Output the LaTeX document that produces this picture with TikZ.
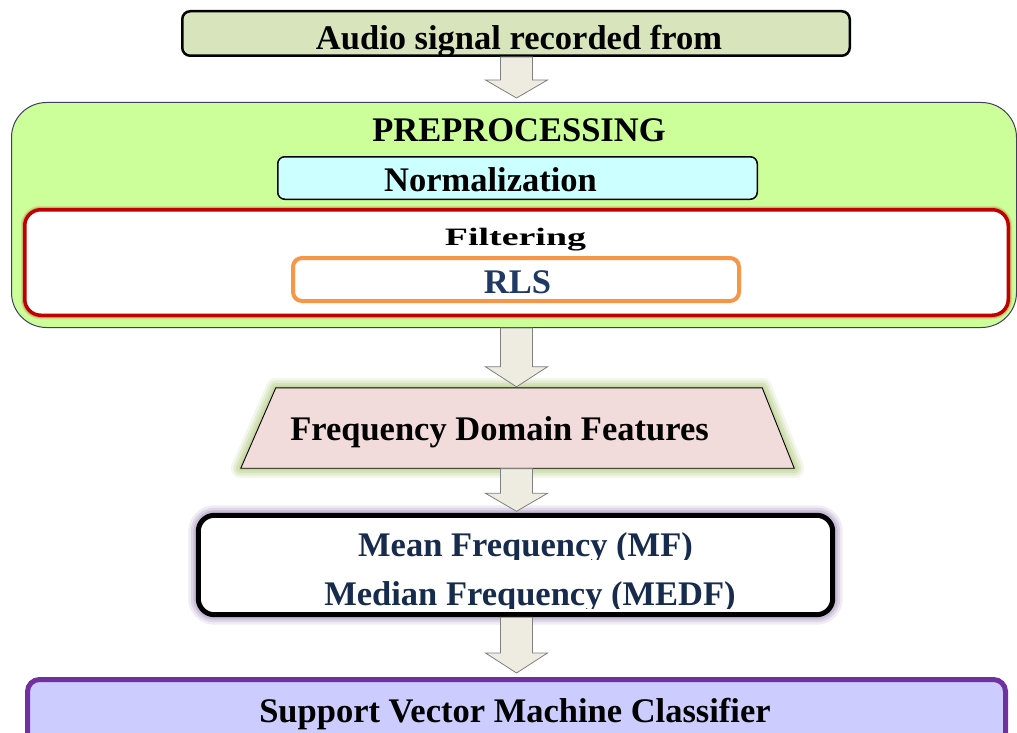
\documentclass[tikz,border=0pt]{standalone}
\usepackage{fontspec}
\setmainfont{Liberation Serif}
\usetikzlibrary{calc}
\definecolor{topfill}{HTML}{D8E4BC}
\definecolor{arrowfill}{HTML}{EEECE1}
\definecolor{arrowline}{HTML}{7F7F7F}
\definecolor{prefill}{HTML}{CCFF99}
\definecolor{preline}{HTML}{3F3F5F}
\definecolor{normfill}{HTML}{CCFFFF}
\definecolor{filtred}{HTML}{C00000}
\definecolor{rlsorange}{HTML}{F79646}
\definecolor{rlsblue}{HTML}{1F3864}
\definecolor{trapfill}{HTML}{F2DCDB}
\definecolor{greenglow}{HTML}{C3D69B}
\definecolor{purpleglow}{HTML}{B3A2C7}
\definecolor{navy}{HTML}{172B4D}
\definecolor{svmfill}{HTML}{CCCCFF}
\definecolor{svmline}{HTML}{7030A0}
\newcommand\blockarrow[3]{% start, tip, head length
  \draw[barrow] ($(#1)+(-16,0)$) -- ($(#1)+(16,0)$) -- ($(#2)+(16,-#3)$) -- ($(#2)+(31,-#3)$)
    -- (#2) -- ($(#2)+(-31,-#3)$) -- ($(#2)+(-16,-#3)$) -- cycle;}
\begin{document}
\begin{tikzpicture}[x=1pt,y=-1pt,
  box/.style={rectangle, inner sep=0pt},
  txt/.style={font=\bfseries\fontsize{34.5}{40}\selectfont, inner sep=0pt, anchor=base},
  barrow/.style={draw=arrowline, fill=arrowfill, line width=0.8pt, line join=miter}]
\useasboundingbox (0,0) rectangle (1017,733);
\clip (0,0) rectangle (1017,733);
\coordinate (axis) at (516.5,0);
% top box
\node[box, draw=black, line width=2.5pt, fill=topfill, rounded corners=8pt,
  minimum width=667.5pt, minimum height=44.5pt] (top) at (516,33.5) {};
\begin{scope}
  \clip (200,12) rectangle (840,55.5);
  \node[txt] (topt) at (519,49.5) {Audio signal recorded from};
\end{scope}
% preprocessing
\node[box, draw=preline, line width=1pt, fill=prefill, rounded corners=35pt,
  minimum width=1005pt, minimum height=225pt] (pre) at (514,215) {};
\node[txt] (pret) at (519,141.5) {PREPROCESSING};
\node[box, draw=black, line width=1.5pt, fill=normfill, rounded corners=7pt,
  minimum width=479.5pt, minimum height=42.5pt] (norm) at (517.5,178) {};
\node[txt] (normt) at (490.5,191.5) {Normalization};
\foreach \w/\o in {8/0.12,5.5/0.2}{
  \draw[filtred, line width=\w pt, opacity=\o, rounded corners=16pt]
    (516.5-491.75,262.5-52.75) rectangle (516.5+491.75,262.5+52.75);}
\node[box, draw=filtred, line width=3.5pt, fill=white, rounded corners=16pt,
  minimum width=983.5pt, minimum height=105.5pt] (filt) at (516.5,262.5) {};
\node[inner sep=0pt, anchor=base, font=\bfseries\fontsize{25}{30}\selectfont] (filtt) at (515.5,245)
  {\resizebox{141pt}{\height}{Filtering}};
\node[box, draw=rlsorange, line width=4pt, fill=white, rounded corners=9pt,
  minimum width=446pt, minimum height=43pt] (rls) at (516,279.5) {};
\node[txt, text=rlsblue] (rlst) at (517.5,293) {RLS};
% frequency domain features (trapezium)
\node[box, minimum width=553pt, minimum height=80pt] (fdf) at (517.5,428) {};
\foreach \w/\o in {20/0.2,15/0.3,10/0.45,5/0.7}{
  \draw[greenglow, line width=\w pt, opacity=\o, line join=round]
    (fdf.south west) -- ($(fdf.north west)+(35,0)$) -- ($(fdf.north east)+(-32,0)$) -- (fdf.south east) -- cycle;}
\draw[black, line width=0.9pt, fill=trapfill]
  (fdf.south west) -- ($(fdf.north west)+(35,0)$) -- ($(fdf.north east)+(-32,0)$) -- (fdf.south east) -- cycle;
\node[txt] (fdft) at (499.5,440) {Frequency Domain Features};
% mean / median box
\node[box, minimum width=634pt, minimum height=99pt] (mean) at (515.5,565) {};
\foreach \w/\o in {20/0.2,15/0.3,10/0.5}{
  \draw[purpleglow, line width=\w pt, opacity=\o, rounded corners=16pt]
    (mean.south west) rectangle (mean.north east);}
\draw[black, line width=5pt, fill=white, rounded corners=16pt]
  (mean.south west) rectangle (mean.north east);
\begin{scope}
  \clip (300,520) rectangle (760,559.5);
  \node[txt, text=navy] (meant) at (525.5,556.5) {Mean Frequency (MF)};
\end{scope}
\begin{scope}
  \clip (300,566) rectangle (780,608);
  \node[txt, text=navy] (medt) at (530,605.5) {Median Frequency (MEDF)};
\end{scope}
% SVM box
\node[box, draw=svmline, line width=5pt, fill=svmfill, rounded corners=12pt,
  minimum width=978pt, minimum height=110pt] (svm) at (516.5,734.5) {};
\node[txt] (svmt) at (515,722.5) {Support Vector Machine Classifier};
% block arrows
\coordinate (a1s) at (top.south -| axis);
\coordinate (a1e) at ($(pre.north -| axis)+(0,-4)$);
\coordinate (a2s) at (pre.south -| axis);
\coordinate (a2e) at ($(fdf.north -| axis)+(0,-1)$);
\coordinate (a3s) at ($(fdf.south -| axis)+(0,0.5)$);
\coordinate (a3e) at ($(mean.north -| axis)+(0,-4)$);
\coordinate (a4s) at ($(mean.south -| axis)+(0,2.5)$);
\coordinate (a4e) at ($(svm.north -| axis)+(0,-4)$);
\blockarrow{a1s}{a1e}{18}
\blockarrow{a2s}{a2e}{20}
\blockarrow{a3s}{a3e}{18}
\blockarrow{a4s}{a4e}{20}
\end{tikzpicture}
\end{document}
